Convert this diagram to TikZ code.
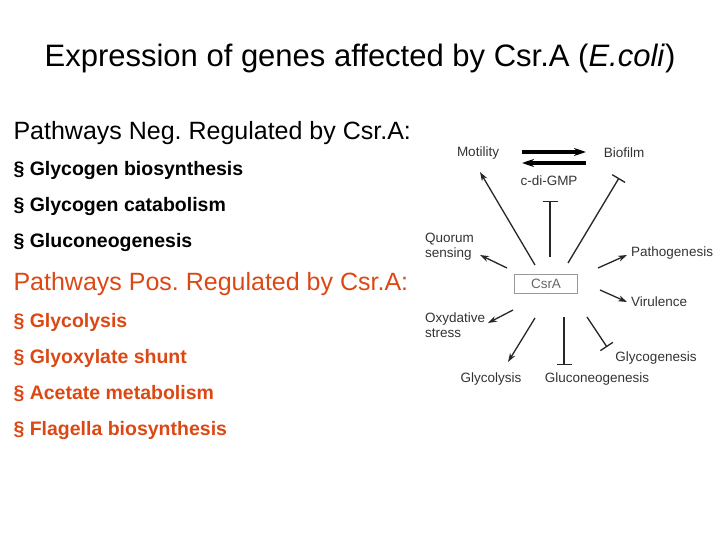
\documentclass[tikz,border=0pt]{standalone}
\usepackage{fontspec}
\setmainfont{Liberation Sans}
\usetikzlibrary{arrows.meta}
\definecolor{posred}{RGB}{220,72,20}
\frenchspacing
\begin{document}
\begin{tikzpicture}[x=1pt,y=-1pt,>={Stealth[length=9pt,width=6pt]},
    lbl/.style={font=\fontsize{13.5}{15}\selectfont,text=black!80,inner sep=1pt},
    act/.style={->,line width=1.3pt,black!85},
    inh/.style={-{Bar[width=15pt]},line width=1.3pt,black!85}]
    \useasboundingbox (0,0) rectangle (720,540);
    \node (title) at (360,58) {\fontsize{31}{36}\selectfont Expression of genes affected by Csr.A (\textit{E.coli})};

    \node [anchor=west](neg) at (10,133) {\fontsize{25}{28}\selectfont Pathways Neg. Regulated by Csr.A:};
    \node [anchor=west](neg1) at (10,171) {\fontsize{19.5}{23}\selectfont\bfseries § Glycogen biosynthesis};
    \node [anchor=west](neg2) at (10,207) {\fontsize{19.5}{23}\selectfont\bfseries § Glycogen catabolism};
    \node [anchor=west](neg3) at (10,243) {\fontsize{19.5}{23}\selectfont\bfseries § Gluconeogenesis};

    \node [anchor=west,text=posred](pos) at (10,284) {\fontsize{25}{28}\selectfont Pathways Pos. Regulated by Csr.A:};
    \node [anchor=west,text=posred](pos1) at (10,322) {\fontsize{19.5}{23}\selectfont\bfseries § Glycolysis};
    \node [anchor=west,text=posred](pos2) at (10,358) {\fontsize{19.5}{23}\selectfont\bfseries § Glyoxylate shunt};
    \node [anchor=west,text=posred](pos3) at (10,394) {\fontsize{19.5}{23}\selectfont\bfseries § Acetate metabolism};
    \node [anchor=west,text=posred](pos4) at (10,430) {\fontsize{19.5}{23}\selectfont\bfseries § Flagella biosynthesis};

    \node [lbl,draw=black!40,line width=1.5pt,minimum width=63pt,minimum height=19pt,text=black!60](csra) at (546,284) {CsrA};

    \node [lbl](motility) at (478,153) {Motility};
    \node [lbl](biofilm) at (624,153) {Biofilm};
    \node [lbl](cdigmp) at (549,181) {c-di-GMP};
    \node [lbl,anchor=west,align=left](quorum) at (424,247) {Quorum\\sensing};
    \node [lbl,anchor=west](patho) at (630,253) {Pathogenesis};
    \node [lbl,anchor=west](viru) at (630,302) {Virulence};
    \node [lbl,anchor=west,align=left](oxy) at (424,325) {Oxydative\\stress};
    \node [lbl](glycolysis) at (491,379) {Glycolysis};
    \node [lbl](gluco) at (597,379) {Gluconeogenesis};
    \node [lbl](glycogen) at (656,358) {Glycogenesis};

    \coordinate (mb1) at (522,152); \coordinate (mb2) at (586,152);
    \coordinate (bm1) at (586,163); \coordinate (bm2) at (522,163);
    \draw [-{Stealth[length=12pt,width=8pt]},line width=4pt] (mb1) -- (mb2);
    \draw [-{Stealth[length=12pt,width=8pt]},line width=4pt] (bm1) -- (bm2);

    \draw [act] (535,265) -- (480,172);
    \draw [inh] (550,257) -- (550,201);
    \draw [inh] (568,263) -- (619,178);
    \draw [act] (507,268) -- (480,255);
    \draw [act] (598,268) -- (627,255);
    \draw [act] (600,290) -- (627,302);
    \draw [act] (513,310) -- (488,323);
    \draw [act] (535,318) -- (508,362);
    \draw [inh] (564,317) -- (564,365);
    \draw [inh] (587,317) -- (607,347);
\end{tikzpicture}
\end{document}
